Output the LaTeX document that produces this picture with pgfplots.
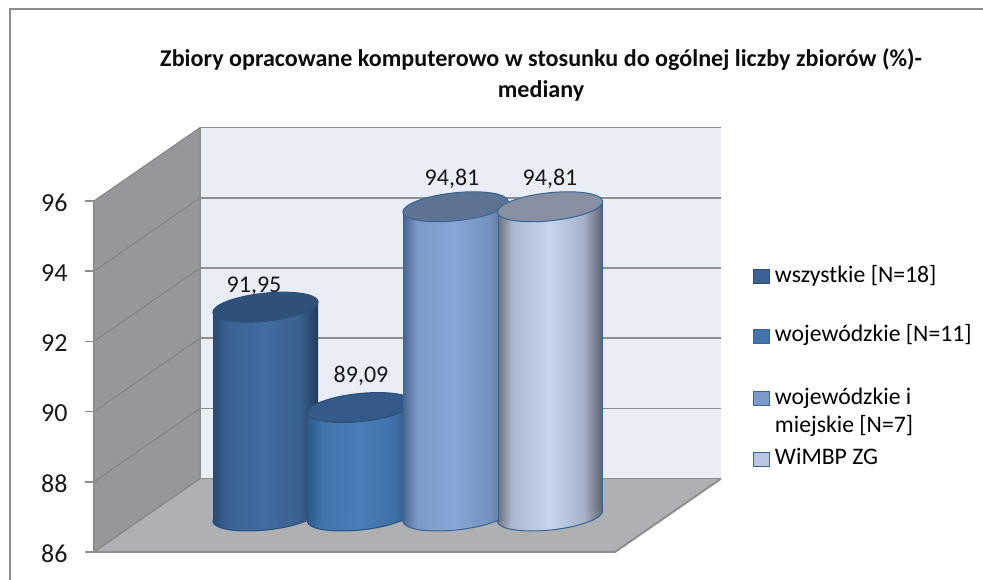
\documentclass[border=0pt]{standalone}
\usepackage{fontspec}
\setmainfont{Carlito}
\usepackage{pgfplots}
\pgfplotsset{compat=1.18}
\usetikzlibrary{shapes.geometric}
\definecolor{framec}{HTML}{8C8C8C}
\definecolor{wallb}{HTML}{E9EDF6}
\definecolor{walls}{HTML}{96979A}
\definecolor{wallf}{HTML}{AEB0B3}
\definecolor{gridb}{HTML}{8E8E8E}
\definecolor{grids}{HTML}{808183}
\definecolor{edgeb}{HTML}{3B6492}
\definecolor{edged}{HTML}{2C4F7C}
\definecolor{a1}{HTML}{2A4A72}\definecolor{a2}{HTML}{3A6394}\definecolor{a3}{HTML}{416B9F}\definecolor{a4}{HTML}{39618F}\definecolor{a5}{HTML}{223B5C}
\definecolor{b1}{HTML}{2F5A8C}\definecolor{b2}{HTML}{4274AE}\definecolor{b3}{HTML}{4A7EB8}\definecolor{b4}{HTML}{3F70A9}\definecolor{b5}{HTML}{2B527F}
\definecolor{c1}{HTML}{49668F}\definecolor{c2}{HTML}{7C9BC8}\definecolor{c3}{HTML}{88A6D6}\definecolor{c4}{HTML}{7391BD}\definecolor{c5}{HTML}{56708F}
\definecolor{d1}{HTML}{6C727F}\definecolor{d2}{HTML}{ACB7CF}\definecolor{d3}{HTML}{C6D4EE}\definecolor{d4}{HTML}{A6B1C9}\definecolor{d5}{HTML}{5F646E}
\definecolor{ta}{HTML}{2F5077}\definecolor{tb}{HTML}{335A88}\definecolor{tc}{HTML}{5C7394}\definecolor{td}{HTML}{878FA3}
\definecolor{ld}{HTML}{B8C6E2}
\pgfdeclarehorizontalshading{cylA}{100bp}{color(0bp)=(a1);color(25bp)=(a1);color(32bp)=(a2);color(50bp)=(a3);color(66bp)=(a4);color(75bp)=(a5);color(100bp)=(a5)}
\pgfdeclarehorizontalshading{cylB}{100bp}{color(0bp)=(b1);color(25bp)=(b1);color(32bp)=(b2);color(50bp)=(b3);color(66bp)=(b4);color(75bp)=(b5);color(100bp)=(b5)}
\pgfdeclarehorizontalshading{cylC}{100bp}{color(0bp)=(c1);color(25bp)=(c1);color(32bp)=(c2);color(50bp)=(c3);color(66bp)=(c4);color(75bp)=(c5);color(100bp)=(c5)}
\pgfdeclarehorizontalshading{cylD}{100bp}{color(0bp)=(d1);color(25bp)=(d1);color(32bp)=(d2);color(50bp)=(d3);color(66bp)=(d4);color(75bp)=(d5);color(100bp)=(d5)}
\pgfplotsset{
  disc/.style={only marks, mark=none, forget plot, nodes near coords={},
    every node near coord/.style={ellipse, inner sep=0pt, anchor=center, rotate=6,
      minimum width=106pt, minimum height=28pt, line width=1pt, #1}},
  lab/.style={only marks, mark=none, forget plot, nodes near coords,
    every node near coord/.style={anchor=center, text=black!90,
      font=\fontsize{24}{24}\selectfont, yshift=#1}},
}
\begin{document}
\begin{tikzpicture}
\useasboundingbox (0pt,0pt) rectangle (983pt,580pt);
\draw[framec, line width=1.5pt] (10pt,0pt) -- (10pt,571pt) -- (983pt,571pt);

% walls, floor, gridlines and the value axis
\begin{axis}[
  at={(94pt,28pt)}, anchor=south west, scale only axis,
  width=627pt, height=424.36pt,
  xmin=94, xmax=721, ymin=86, ymax=98.09,
  hide x axis, axis y line*=left, y axis line style={draw=none},
  ytick={86,88,...,96}, tick align=outside, major tick length=9pt,
  ytick style={framec, line width=1.5pt},
  yticklabel style={font=\fontsize{26}{26}\selectfont, text=black!90, xshift=-14pt, yshift=-2pt},
  /pgf/number format/assume math mode=true,
  clip=false]
\addplot[fill=walls, draw=none] coordinates {(94,86) (94,96) (200,98.09) (200,88.09)} -- cycle;
\addplot[fill=wallb, draw=none] coordinates {(200,88.09) (200,98.09) (721,98.09) (721,88.09)} -- cycle;
\addplot[fill=wallf, draw=none] coordinates {(94,86) (200,88.09) (721,88.09) (615,86)} -- cycle;
\addplot[grids, line width=1pt] coordinates {(94,88) (200,90.09)};
\addplot[grids, line width=1pt] coordinates {(94,90) (200,92.09)};
\addplot[grids, line width=1pt] coordinates {(94,92) (200,94.09)};
\addplot[grids, line width=1pt] coordinates {(94,94) (200,96.09)};
\addplot[grids, line width=1pt] coordinates {(94,96) (200,98.09)};
\addplot[grids, line width=1pt] coordinates {(94,86) (200,88.09)};
\addplot[gridb, line width=1.6pt] coordinates {(200,88.09) (721,88.09)};
\addplot[gridb, line width=1.6pt] coordinates {(200,90.09) (721,90.09)};
\addplot[gridb, line width=1.6pt] coordinates {(200,92.09) (721,92.09)};
\addplot[gridb, line width=1.6pt] coordinates {(200,94.09) (721,94.09)};
\addplot[gridb, line width=1.6pt] coordinates {(200,96.09) (721,96.09)};
\addplot[gridb, line width=1.6pt] coordinates {(200,98.09) (721,98.09)};
\addplot[gridb, line width=1.6pt] coordinates {(200,88.09) (200,98.09)};
\addplot[gridb, line width=2pt] coordinates {(94,96) (94,86) (615,86) (721,88.09)};
\end{axis}

% cylinders, same value scale moved up to the middle of the floor
\begin{axis}[
  at={(0pt,0pt)}, anchor=south west, scale only axis, hide axis, clip mode=individual,
  width=983pt, height=580pt,
  xmin=0, xmax=983, ymin=84.1766, ymax=100.7009,
  /pgf/number format/assume math mode=true,
  /pgf/number format/fixed, /pgf/number format/fixed zerofill,
  /pgf/number format/precision=2, /pgf/number format/use comma,
  title={Zbiory opracowane komputerowo w stosunku do ogólnej liczby zbiorów (\%)-\\mediany},
  title style={at={(0.5504,0.86)}, anchor=center, align=center,
    font=\fontsize{24.1}{31}\selectfont\bfseries, text=black!95},
  legend style={at={(0.766,0.543)}, anchor=north west, draw=none, fill=none,
    inner sep=0pt, outer sep=0pt, row sep=0pt, column sep=5pt,
    nodes={inner sep=0pt, text depth=, text height=}, font=\fontsize{23.7}{28}\selectfont},
  legend cell align=left,
  legend image code/.code={\path[#1] (0pt,11pt) rectangle (16pt,25pt);}]

% wszystkie
\addplot[lab=21pt] coordinates {(254,91.95)};
\addplot[disc={shade, shading=cylA, draw=edged}] coordinates {(265.5,86)};
\addplot[shade, shading=cylA, draw=none, forget plot] coordinates {(213,85.84) (213,91.79) (318,92.11) (318,86.16)} -- cycle;
\addplot[disc={fill=ta, draw=edged}] coordinates {(265.5,91.95)};
% wojewodzkie
\addplot[lab=32pt] coordinates {(361,89.09)};
\addplot[disc={shade, shading=cylB, draw=edged}] coordinates {(360,86)};
\addplot[shade, shading=cylB, draw=none, forget plot] coordinates {(308,85.84) (308,88.93) (413,89.25) (413,86.16)} -- cycle;
\addplot[disc={fill=tb, draw=edged}] coordinates {(360,89.09)};
% wojewodzkie i miejskie
\addplot[lab=28pt] coordinates {(452,94.81)};
\addplot[disc={shade, shading=cylC, draw=edgeb}] coordinates {(455.5,86)};
\addplot[shade, shading=cylC, draw=none, forget plot] coordinates {(403,85.84) (403,94.65) (508,94.97) (508,86.16)} -- cycle;
\addplot[edgeb, line width=1pt, forget plot] coordinates {(403,85.84) (403,94.65)};
\addplot[disc={fill=tc, draw=edgeb}] coordinates {(455.5,94.81)};
% WiMBP ZG
\addplot[lab=28pt] coordinates {(550,94.81)};
\addplot[disc={shade, shading=cylD, draw=edgeb}] coordinates {(550,86)};
\addplot[shade, shading=cylD, draw=none, forget plot] coordinates {(498,85.84) (498,94.65) (602,94.97) (602,86.16)} -- cycle;
\addplot[edgeb, line width=1pt, forget plot] coordinates {(498,85.84) (498,94.65)};
\addplot[edgeb, line width=1pt, forget plot] coordinates {(602,86.16) (602,94.97)};
\addplot[disc={fill=td, draw=edgeb}] coordinates {(550,94.81)};

\addlegendimage{fill=a2, draw=a2!80!black, line width=1pt}
\addlegendentry{wszystkie [N=18]\rule[-42pt]{0pt}{18pt}}
\addlegendimage{fill=b2, draw=edgeb, line width=1pt}
\addlegendentry{wojewódzkie [N=11]\rule[-44pt]{0pt}{18pt}}
\addlegendimage{fill=c2, draw=edgeb, line width=1pt}
\addlegendentry{\begin{tabular}[t]{@{}l@{}}wojewódzkie i\\miejskie [N=7]\rule[-15pt]{0pt}{18pt}\end{tabular}}
\addlegendimage{fill=ld, draw=edgeb, line width=1pt}
\addlegendentry{WiMBP ZG\rule[-42pt]{0pt}{18pt}}
\end{axis}
\end{tikzpicture}
\end{document}
